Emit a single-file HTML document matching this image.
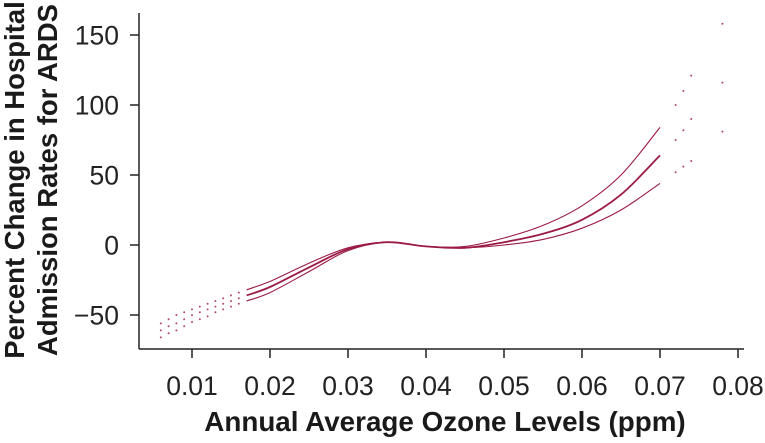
<!DOCTYPE html>
<html><head><meta charset="utf-8"><style>
body{margin:0;background:#fff;}
svg text{font-family:"Liberation Sans",Arial,sans-serif;}
</style></head><body>
<svg id="chart" width="765" height="438" viewBox="0 0 765 438">
<g id="axes"></g><g id="marks"></g>
<text x="445" y="431" text-anchor="middle" font-size="27.8" font-weight="bold" fill="#1a1a1a">Annual Average Ozone Levels (ppm)</text>
<g transform="translate(24,180) rotate(-90)">
<text x="0" y="0" text-anchor="middle" font-size="27.5" font-weight="bold" fill="#1a1a1a">Percent Change in Hospital</text>
<text x="0" y="33" text-anchor="middle" font-size="27.5" font-weight="bold" fill="#1a1a1a">Admission Rates for ARDS</text>
</g>
</svg>
<script>
const xVals=[0.006,0.007,0.008,0.009,0.010,0.011,0.012,0.013,0.014,0.015,0.016,0.017,0.020,0.025,0.030,0.035,0.040,0.045,0.050,0.055,0.060,0.065,0.070,0.072,0.073,0.074,0.078];
const midVals=[-61,-58,-56,-53,-50,-48,-46,-44,-42,-40,-38,-36,-30,-16,-3,2,-1,-2,2,8,18,36,64,75,82,90,116];
const upperVals=[-56,-53,-50,-48,-46,-44,-42,-40,-38,-36,-34,-32,-26,-13,-2,2,-1,-1,5,14,28,50,84,100,110,121,158];
const lowerVals=[-66,-63,-61,-58,-55,-53,-51,-48,-46,-44,-42,-40,-34,-19,-4,2,-1,-2,0,4,12,25,44,52,56,60,81];
const xTicks=[0.01,0.02,0.03,0.04,0.05,0.06,0.07,0.08];
const xTickLabels=["0.01","0.02","0.03","0.04","0.05","0.06","0.07","0.08"];
const yTicks=[-50,0,50,100,150];
const yTickLabels=["\u221250","0","50","100","150"];
const xs=v=>114+v*7800;
const ys=v=>245-v*1.4;
const NS="http://www.w3.org/2000/svg";
const axes=document.getElementById('axes'),marks=document.getElementById('marks');
function mk(t,a,p){const e=document.createElementNS(NS,t);for(const k in a)e.setAttribute(k,a[k]);p.appendChild(e);return e;}
let yl=mk('line',{x1:139,y1:13,x2:139,y2:349,stroke:'#222','stroke-width':1.5},axes);


let xl=mk('line',{x1:139,y1:349,x2:744,y2:349,stroke:'#222','stroke-width':1.5},axes);


xTicks.forEach((t,i)=>{
 const tk=mk('line',{x1:xs(t),y1:349,x2:xs(t),y2:358,stroke:'#222','stroke-width':1.5},axes);
 
 
 const tx=mk('text',{x:xs(t),y:395,'text-anchor':'middle','font-size':26.5,fill:'#222'},axes);
 tx.textContent=xTickLabels[i];
 
 
});
yTicks.forEach((t,i)=>{
 const tk=mk('line',{x1:130,y1:ys(t),x2:139,y2:ys(t),stroke:'#222','stroke-width':1.5},axes);
 
 
 const tx=mk('text',{x:119,y:ys(t)+9.5,'text-anchor':'end','font-size':26.5,fill:'#222'},axes);
 tx.textContent=yTickLabels[i];
 
 
});
function draw(vals,name,w){
 const solid=[];
 xVals.forEach((x,i)=>{
  if(x>=0.017&&x<=0.070){solid.push([xs(x),ys(vals[i])]);}
  else{
   const c=mk('circle',{cx:xs(x),cy:ys(vals[i]),r:1,fill:'#9b1b45',opacity:0.8},marks);
   
   
  }
 });
 let d='M'+solid[0][0]+','+solid[0][1];
 for(let i=1;i<solid.length;i++){
  const p0=solid[Math.max(0,i-2)],p1=solid[i-1],p2=solid[i],p3=solid[Math.min(solid.length-1,i+1)];
  const c1x=p1[0]+(p2[0]-p0[0])/6,c1y=p1[1]+(p2[1]-p0[1])/6,c2x=p2[0]-(p3[0]-p1[0])/6,c2y=p2[1]-(p3[1]-p1[1])/6;
  d+=` C${c1x},${c1y} ${c2x},${c2y} ${p2[0]},${p2[1]}`;
 }
 const p=mk('path',{d:d,fill:'none',stroke:'#9b1b45','stroke-width':w},marks);
 
 
}
draw(upperVals,'upper-ci-curve',1.1);
draw(lowerVals,'lower-ci-curve',1.1);
draw(midVals,'estimate-curve',1.8);
</script>
</body></html>
